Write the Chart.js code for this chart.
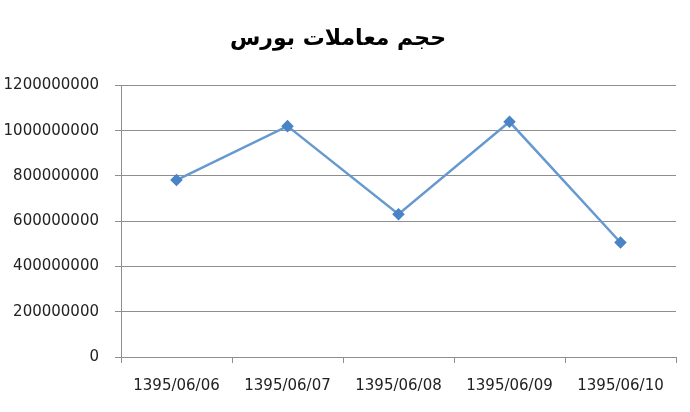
<!DOCTYPE html>
<html>
<head>
<meta charset="utf-8">
<script src="https://cdn.jsdelivr.net/npm/chart.js@4"></script>
<style>
  html, body { margin: 0; padding: 0; background: #fff; }
  #wrap { width: 690px; height: 412px; }
</style>
</head>
<body>
<div id="wrap"><canvas id="volumeChart" width="690" height="412"></canvas></div>
<script>
// ============================================================
// DATA
// ============================================================
const TITLE = 'حجم معاملات بورس';
const dates = ['1395/06/06', '1395/06/07', '1395/06/08', '1395/06/09', '1395/06/10'];
const volumes = [782000000, 1020000000, 631000000, 1039000000, 506000000];
const yTicks = [0, 200000000, 400000000, 600000000, 800000000, 1000000000, 1200000000];

const COLORS = {
  line: '#6699CF',
  point: '#4A84C6',
  grid: '#8E8E8E',
  text: '#222222'
};

const FONT = { family: 'DejaVu Sans', size: 15 };

// ============================================================
// CHART
// ============================================================
new Chart(document.getElementById('volumeChart'), {
  type: 'line',
  data: {
    labels: dates,
    datasets: [{
      data: volumes,
      borderColor: COLORS.line,
      borderWidth: 2.5,
      pointStyle: 'rectRot',
      pointRadius: 4.5,
      pointBackgroundColor: COLORS.point,
      pointBorderColor: COLORS.point,
      tension: 0
    }]
  },
  options: {
    responsive: false,
    animation: false,
    layout: { padding: { left: 0, right: 14, top: 0, bottom: 0 } },
    plugins: {
      legend: { display: false },
      tooltip: { enabled: false },
      title: {
        display: true,
        text: TITLE,
        color: '#000',
        font: { family: 'DejaVu Sans', size: 22, weight: 'bold' },
        padding: { top: 26, bottom: 33 }
      }
    },
    scales: {
      x: {
        offset: true,
        grid: {
          offset: true,
          drawOnChartArea: false,
          drawTicks: true,
          tickLength: 6,
          color: COLORS.grid
        },
        border: { color: COLORS.grid, width: 1 },
        ticks: { color: COLORS.text, font: FONT, padding: 14, maxRotation: 0 },
        afterFit: scale => { scale.height = 55; }
      },
      y: {
        min: 0,
        max: 1200000000,
        afterBuildTicks: scale => { scale.ticks = yTicks.map(v => ({ value: v })); },
        grid: { color: COLORS.grid, tickLength: 6 },
        border: { color: COLORS.grid, width: 1 },
        ticks: {
          color: COLORS.text,
          font: FONT,
          padding: 16,
          callback: v => String(v)
        },
        afterFit: scale => { scale.width = 121; }
      }
    }
  }
});
</script>
</body>
</html>
